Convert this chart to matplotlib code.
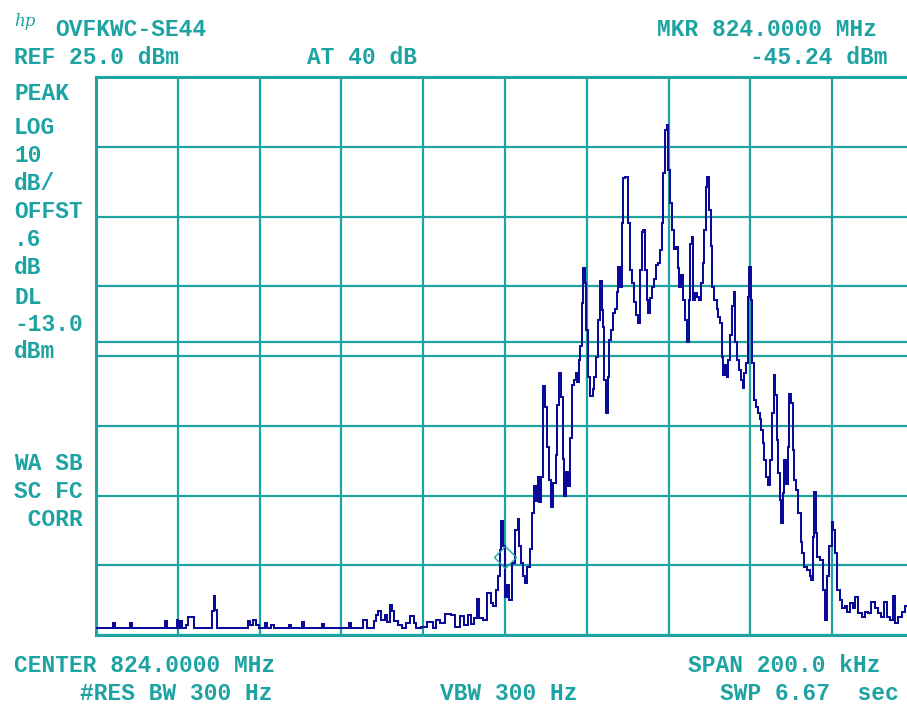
import matplotlib
matplotlib.use("Agg")
import matplotlib.pyplot as plt
import matplotlib.transforms as mtransforms

# ---------------- data ----------------
# frequency offset from center (kHz) and trace level (dBm)
freq_khz = [
    -100.0, -96.1, -95.6, -95.1, -91.9, -91.4, -91.0, -83.4, -82.9, -82.4,
    -80.4, -80.1, -79.7, -79.2, -78.7, -78.2, -77.8, -77.0, -76.3, -75.8,
    -71.9, -71.4, -71.1, -70.7, -70.2, -63.1, -62.6, -61.9, -61.4, -60.6,
    -59.9, -58.9, -58.4, -57.9, -57.5, -57.0, -56.2, -53.1, -52.6, -52.1,
    -49.9, -49.4, -48.9, -45.0, -44.5, -44.0, -38.4, -37.9, -37.4, -35.0,
    -34.2, -33.5, -32.3, -31.8, -31.3, -30.6, -29.8, -29.1, -28.4, -27.9,
    -27.4, -26.7, -25.7, -24.7, -23.7, -22.7, -22.0, -21.3, -20.0, -18.3,
    -17.1, -16.4, -15.2, -13.9, -12.7, -11.6, -10.6, -9.4, -8.7, -8.1,
    -7.3, -6.5, -6.1, -4.9, -3.7, -3.3, -2.7, -1.9, -1.4, -1.1,
    -0.7, -0.2, 0.2, 0.8, 1.4, 2.0, 2.9, 3.3, 3.7, 4.1,
    4.6, 5.1, 5.7, 6.5, 6.9, 7.3, 7.8, 8.1, 8.6, 9.1,
    9.6, 10.0, 10.3, 11.0, 11.6, 12.1, 12.6, 13.0, 13.4, 13.9,
    14.3, 14.7, 15.1, 15.6, 16.1, 16.6, 17.1, 17.5, 17.9, 18.3,
    18.6, 18.9, 19.3, 19.7, 20.1, 20.6, 21.2, 21.6, 22.0, 22.6,
    23.1, 23.4, 23.8, 24.2, 24.4, 24.9, 25.3, 25.7, 26.2, 26.7,
    27.1, 27.6, 27.9, 28.3, 28.7, 29.1, 29.8, 30.2, 30.7, 31.4,
    31.8, 32.3, 32.8, 33.2, 33.6, 34.0, 34.4, 34.8, 35.2, 35.6,
    36.1, 36.7, 37.1, 37.7, 38.1, 38.5, 38.9, 39.4, 39.8, 40.1,
    40.5, 41.0, 41.6, 42.0, 42.4, 42.9, 43.4, 43.8, 44.3, 44.7,
    45.1, 45.4, 45.8, 46.2, 46.7, 47.3, 47.7, 48.1, 48.5, 48.9,
    49.3, 49.7, 50.1, 50.5, 50.9, 51.5, 52.0, 52.4, 52.8, 53.2,
    53.6, 54.0, 54.4, 54.8, 55.3, 55.7, 56.1, 56.5, 57.0, 57.5,
    57.9, 58.3, 58.7, 59.1, 59.5, 59.9, 60.3, 60.7, 61.1, 61.7,
    62.2, 62.3, 62.8, 63.2, 63.6, 64.1, 64.5, 65.2, 65.6, 65.8,
    66.3, 66.6, 67.0, 67.4, 67.8, 68.0, 68.5, 68.9, 69.3, 69.7,
    70.1, 70.5, 70.9, 71.5, 72.0, 72.5, 72.9, 73.3, 74.2, 74.7,
    75.0, 75.4, 75.8, 76.2, 76.6, 77.4, 78.0, 78.7, 79.0, 79.6,
    80.1, 80.5, 80.9, 81.5, 82.1, 82.7, 83.4, 83.9, 84.8, 85.3,
    86.0, 86.8, 87.6, 88.4, 89.2, 90.0, 90.9, 91.7, 92.3, 92.9,
    93.7, 94.5, 95.2, 95.6, 96.6, 97.4, 98.2, 99.0, 100.0,
]
level_dbm = [
    -54.0, -54.0, -53.3, -54.0, -54.0, -53.3, -54.0, -54.0, -53.0, -54.0,
    -54.0, -52.9, -54.0, -53.0, -54.0, -54.0, -53.5, -52.4, -52.4, -54.0,
    -54.0, -51.5, -49.4, -51.4, -54.0, -54.0, -53.0, -53.5, -52.8, -53.6,
    -54.0, -54.0, -53.3, -54.0, -54.0, -53.6, -54.0, -54.0, -53.6, -54.0,
    -54.0, -53.2, -54.0, -54.0, -53.4, -54.0, -54.0, -53.3, -54.0, -54.0,
    -52.9, -54.0, -54.0, -53.0, -52.1, -51.6, -52.8, -52.2, -53.2, -50.7,
    -51.6, -53.0, -53.5, -54.0, -53.3, -52.3, -53.3, -54.0, -53.8, -53.1,
    -54.0, -52.9, -53.3, -52.0, -52.1, -53.9, -52.3, -53.6, -52.2, -53.4,
    -52.6, -49.9, -52.5, -52.8, -49.0, -50.4, -50.9, -48.5, -46.6, -42.8,
    -38.7, -42.3, -49.5, -47.8, -50.0, -44.7, -39.9, -38.4, -42.2, -44.7,
    -46.6, -47.6, -45.2, -42.6, -37.5, -33.7, -35.8, -32.3, -36.0, -32.3,
    -19.3, -22.3, -28.0, -32.8, -36.6, -33.2, -29.2, -22.0, -17.5, -20.9,
    -29.7, -35.0, -31.6, -33.7, -26.8, -19.2, -18.4, -17.4, -18.7, -15.6,
    -13.5, -7.4, -2.4, -4.5, -11.3, -18.0, -20.8, -19.8, -18.0, -15.1,
    -9.8, -4.3, -8.4, -10.8, -18.4, -23.2, -18.0, -12.7, -11.3, -8.9,
    -8.2, -5.8, -2.2, -5.1, 4.0, 10.5, 10.6, 4.0, -2.7, -4.6,
    -7.2, -9.1, -10.3, -2.7, 2.8, 3.0, -2.7, -7.0, -8.9, -6.7,
    -5.1, -3.9, -2.0, -1.7, 0.2, 4.0, 11.2, 17.4, 18.1, 11.7,
    6.9, 3.1, 0.4, 0.6, -2.4, -5.1, -3.4, -7.0, -9.8, -13.0,
    -7.0, 1.1, 2.1, -7.0, -6.0, -6.5, -7.0, -4.6, -1.7, 3.1,
    9.3, 10.7, 5.9, 0.7, -5.1, -7.0, -8.2, -9.4, -10.3, -15.1,
    -17.7, -16.3, -18.0, -15.6, -12.0, -7.9, -5.8, -13.0, -15.6, -17.0,
    -18.4, -19.6, -17.5, -16.0, -6.5, -2.2, -7.0, -16.0, -21.3, -22.3,
    -23.2, -24.0, -25.6, -27.5, -29.9, -32.3, -33.5, -29.9, -23.2, -17.7,
    -20.6, -27.0, -31.8, -35.6, -39.0, -34.6, -29.9, -33.3, -28.0, -20.4,
    -21.7, -28.5, -32.8, -34.2, -37.5, -41.6, -43.3, -45.2, -45.7, -46.6,
    -47.1, -40.9, -34.5, -40.4, -43.8, -44.2, -48.5, -52.8, -46.6, -42.3,
    -38.8, -40.0, -43.2, -48.5, -50.0, -51.2, -50.9, -51.7, -50.4, -51.1,
    -49.5, -51.9, -52.4, -51.7, -51.9, -50.2, -51.1, -51.9, -52.4, -50.2,
    -52.4, -52.8, -49.4, -53.3, -52.4, -51.7, -50.9, -51.8, -52.2,
]

ref_level = 25.0
db_per_div = 10
n_vdiv = 8
span_khz = 200.0
n_hdiv = 10
display_line = -13.0
marker_freq = 0.0
marker_level = -45.24

header_left = ["OVFKWC-SE44", "REF 25.0 dBm"]
header_mid = "AT 40 dB"
header_right = ["MKR 824.0000 MHz", "-45.24 dBm"]
side_labels = ["PEAK", "LOG", "10", "dB/", "OFFST", ".6", "dB", "DL", "-13.0", "dBm"]
side_labels2 = ["WA SB", "SC FC", " CORR"]
footer = ["CENTER 824.0000 MHz", "SPAN 200.0 kHz", "#RES BW 300 Hz", "VBW 300 Hz", "SWP 6.67  sec"]

# ---------------- style ----------------
TEAL = "#1ea3a3"
TRACE = "#0a0a9a"
W, H = 907, 707
fig = plt.figure(figsize=(W / 100, H / 100), dpi=100)
fig.patch.set_facecolor("white")

ax = fig.add_axes([96 / W, 1 - 635 / H, 818 / W, 558 / H])
ax.set_xlim(-span_khz / 2, span_khz / 2)
ax.set_ylim(ref_level - n_vdiv * db_per_div, ref_level)
ax.set_xticks([-span_khz / 2 + i * span_khz / n_hdiv for i in range(n_hdiv + 1)])
ax.set_yticks([ref_level - i * db_per_div for i in range(n_vdiv + 1)])
ax.tick_params(length=0, labelbottom=False, labelleft=False)
ax.grid(True, color=TEAL, linewidth=1.6)
for s in ax.spines.values():
    s.set_color(TEAL)
    s.set_linewidth(2.2)
ax.axhline(display_line, color=TEAL, linewidth=1.6)

ax.plot(freq_khz, level_dbm, color=TRACE, linewidth=1.45, drawstyle="steps-mid",
        solid_joinstyle="miter", zorder=3)

mk_tr = mtransforms.offset_copy(ax.transData, fig=fig, x=0, y=10, units="dots")
ax.plot([marker_freq], [marker_level], marker="D", markersize=11, markerfacecolor="none",
        markeredgecolor=TEAL, markeredgewidth=1.0, linestyle="none", transform=mk_tr, zorder=4)

FONT = dict(family="Liberation Mono", weight="bold", size=16.5, color=TEAL)

def put(x, y, s, ha="left", **kw):
    d = dict(FONT)
    d.update(kw)
    fig.text(x / W, 1 - y / H, s, ha=ha, va="center", **d)

put(14, 22, "hp", family="DejaVu Serif", style="italic", weight="normal", size=12)
put(55, 30, header_left[0])
put(14, 58, header_left[1])
put(307, 58, header_mid)
put(877, 30, header_right[0], ha="right")
put(887, 58, header_right[1], ha="right")

side_y = [93, 128, 156, 184, 212, 240, 268, 297, 324, 352]
for y, s in zip(side_y, side_labels):
    put(14, y, s)
for y, s in zip([464, 492, 520], side_labels2):
    put(14, y, s)

put(14, 666, footer[0])
put(880, 666, footer[1], ha="right")
put(80, 694, footer[2])
put(440, 694, footer[3])
put(720, 694, footer[4])

fig.savefig("out.png", dpi=100, facecolor="white")
